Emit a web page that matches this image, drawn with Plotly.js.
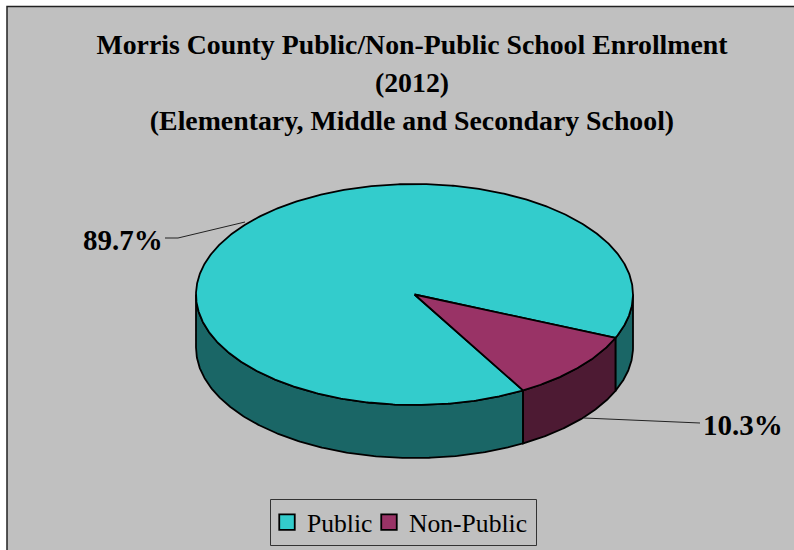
<!DOCTYPE html>
<html><head><meta charset="utf-8">
<script src="https://cdn.plot.ly/plotly-3.0.1.min.js"></script>
<style>html,body{margin:0;padding:0;background:#fff;overflow:hidden}</style>
</head><body><div id="chart" style="width:794px;height:550px"></div>
<script>
const categories = ["Public", "Non-Public"];
const shares = [89.7, 10.3];
const topColors = ["#33CCCC", "#993366"];
const sideColors = ["#1A6666", "#4D1A33"];
const shareLabels = ["89.7%", "10.3%"];
const titleLines = ["Morris County Public/Non-Public School Enrollment", "(2012)", "(Elementary, Middle and Secondary School)"];

const W = 794, H = 550;
const CX = 414.5, CY = 294.5, RX = 218.5, RY = 110.5, DEPTH = 53;
const START_DEG = 60.2;            // where Public begins, clockwise on screen from +x

const total = shares.reduce((a, b) => a + b, 0);
const pt = (deg, dy) => {
  const r = deg * Math.PI / 180;
  return [CX + RX * Math.cos(r), CY + dy + RY * Math.sin(r)];
};
const arc = (a, b, dy) => {
  const out = [], n = Math.max(2, Math.ceil(Math.abs(b - a) / 0.5));
  for (let i = 0; i <= n; i++) out.push(pt(a + (b - a) * i / n, dy));
  return out;
};
const poly = (points, color) => ({
  type: "scatter", mode: "lines",
  x: points.map(p => p[0]), y: points.map(p => p[1]),
  fill: "toself", fillcolor: color,
  line: { color: "#000", width: 1.8 }, showlegend: false, hoverinfo: "skip"
});

const spans = [];
let cursor = START_DEG;
shares.forEach((v, i) => { const sweep = 360 * v / total; spans.push([cursor, cursor + sweep, i]); cursor += sweep; });

const traces = [];
// walls: only the part of each slice facing the viewer (angle 0..180 modulo 360)
spans.forEach(([a, b, i]) => {
  [[0, 180], [360, 540]].forEach(([lo, hi]) => {
    const s = Math.max(a, lo), e = Math.min(b, hi);
    if (e > s) traces.push(poly([...arc(s, e, 0), ...arc(e, s, DEPTH), pt(s, 0)], sideColors[i]));
  });
});
// top faces
spans.forEach(([a, b, i]) => traces.push(poly([[CX, CY], ...arc(a, b, 0), [CX, CY]], topColors[i])));
// legend entries, one legend per entry so each can sit at its own spot
categories.forEach((c, i) => traces.push({
  type: "scatter", mode: "markers", name: c, x: [null], y: [null], hoverinfo: "skip",
  legend: i === 0 ? "legend" : "legend2",
  marker: { symbol: "square", size: 15.5, color: topColors[i], line: { color: "#000", width: 1.8 } }
}));

const serif = "Liberation Serif, Times New Roman, serif";
const legendBase = {
  orientation: "h", y: 1 - 499 / H, xanchor: "left", yanchor: "top",
  bgcolor: "rgba(0,0,0,0)", borderwidth: 0,
  font: { family: serif, size: 25.6, color: "#000" }, itemclick: false, itemdoubleclick: false
};
const layout = {
  width: W, height: H, autosize: false,
  margin: { l: 0, r: 0, t: 0, b: 0 },
  paper_bgcolor: "#fff", plot_bgcolor: "rgba(0,0,0,0)",
  xaxis: { range: [0, W], visible: false, fixedrange: true },
  yaxis: { range: [H, 0], visible: false, fixedrange: true },
  title: {
    text: titleLines.map(t => '<span style="font-size:27.8px">' + t + '</span>').join("<br>"),
    font: { family: serif, size: 29.2, color: "#000", weight: 700 },
    x: 412 / W, xanchor: "center", y: 1 - 54 / H, yanchor: "top"
  },
  showlegend: true,
  legend: { ...legendBase, x: 267 / W },
  legend2: { ...legendBase, x: 369 / W },
  shapes: [
    { type: "rect", layer: "below", xref: "paper", yref: "paper", x0: 7 / W, x1: 1.01, y0: -0.01, y1: 1 - 6.5 / H,
      fillcolor: "#C0C0C0", line: { color: "#222", width: 1.5 } },
    { type: "rect", layer: "below", xref: "x", yref: "y", x0: 270.5, x1: 536.5, y0: 499.5, y1: 545.5,
      line: { color: "#333", width: 1 } },
    { type: "path", layer: "above", xref: "x", yref: "y", path: "M165,238 L178,238 L245,222", line: { color: "#222", width: 1 } },
    { type: "path", layer: "above", xref: "x", yref: "y", path: "M700,423 L584,418", line: { color: "#222", width: 1 } }
  ],
  annotations: [
    { x: 122.5, y: 239.5, text: shareLabels[0] },
    { x: 743, y: 424.5, text: shareLabels[1] }
  ].map(a => ({ ...a, xref: "x", yref: "y", showarrow: false, xanchor: "center", yanchor: "middle",
    font: { family: serif, size: 29, color: "#000", weight: 700 } }))
};
Plotly.newPlot("chart", traces, layout, { displayModeBar: false, staticPlot: true });
</script></body></html>
